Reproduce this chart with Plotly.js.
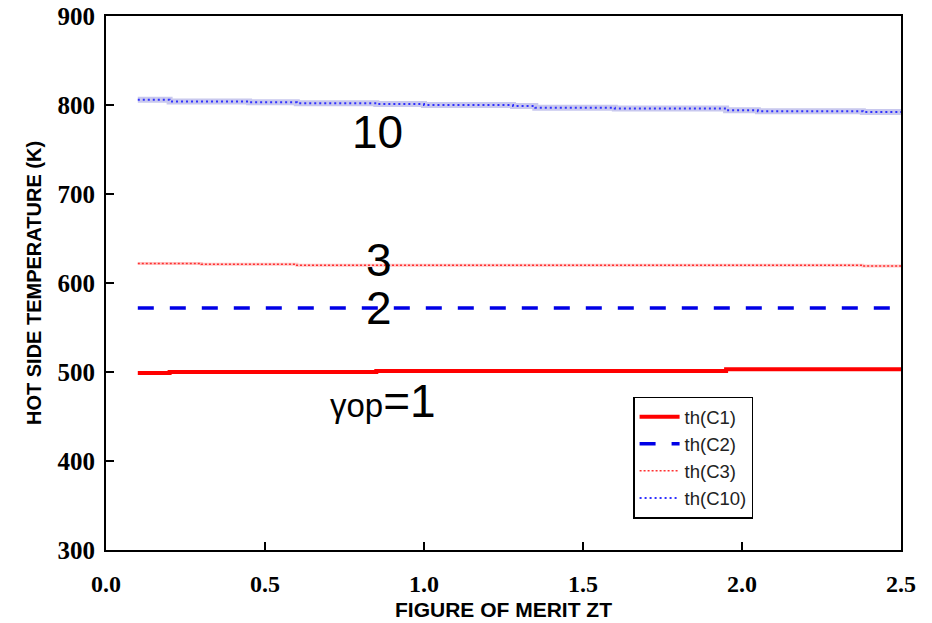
<!DOCTYPE html>
<html><head><meta charset="utf-8">
<script src="https://cdn.plot.ly/plotly-3.0.1.min.js"></script>
<style>body{margin:0;background:#fff}#chart{width:932px;height:623px}</style>
</head><body><div id="chart"></div>
<script>
// Data
const zt = [0.1, 0.2, 0.3, 0.45, 0.6, 0.85, 1.0, 1.28, 1.35, 1.6, 1.95, 2.05, 2.38, 2.5];
const thC1 = [499, 500, 500, 500, 500, 501, 501, 501, 501, 501, 503, 503, 503, 503];
const thC2 = [572, 572, 572, 572, 572, 572, 572, 572, 572, 572, 572, 572, 572, 572];
const thC3 = [622, 622, 621, 621, 620, 620, 620, 620, 620, 620, 620, 620, 619, 619];
const thC10 = [806, 804, 804, 803, 802, 801, 800, 799, 797, 796, 794, 793, 792, 792];
const seriesNames = ["th(C1)", "th(C2)", "th(C3)", "th(C10)"];
const labelTexts = ["10", "3", "2", "<span style='font-size:33px'>γop</span>=1"];
const labelX = [0.855, 0.86, 0.86, 0.87];
const labelY = [770, 625.5, 571.5, 467];

const traces = [
  {x: zt, y: thC1, name: seriesNames[0], mode: "lines", line: {shape: "hv", color: "#ff0000", width: 4}},
  {x: zt, y: thC2, name: seriesNames[1], mode: "lines", line: {shape: "hv", color: "#0000e6", width: 3.5, dash: "16px,16px"}},
  {x: zt, y: thC3, mode: "lines", showlegend: false, hoverinfo: "skip", line: {shape: "hv", color: "#ffc8c8", width: 3}},
  {x: zt, y: thC3, name: seriesNames[2], mode: "lines", line: {shape: "hv", color: "#ff3030", width: 1.5, dash: "2px,2px"}},
  {x: zt, y: thC10, mode: "lines", showlegend: false, hoverinfo: "skip", line: {shape: "hv", color: "#c8c8ee", width: 6}},
  {x: zt, y: thC10, name: seriesNames[3], mode: "lines", line: {shape: "hv", color: "#3030ff", width: 2, dash: "2px,3px"}}
];

const tickFontY = {family: "Liberation Serif", size: 25, color: "#000", weight: 700};
const tickFontX = {family: "Liberation Serif", size: 24, color: "#000", weight: 700};
const annotations = labelTexts.map((t, i) => ({
  x: labelX[i], y: labelY[i], xref: "x", yref: "y", text: t, showarrow: false,
  font: {family: "Liberation Sans", size: 46, color: "#000"}
}));

const layout = {
  width: 932, height: 623,
  margin: {l: 106, r: 31, t: 16, b: 73},
  paper_bgcolor: "#fff", plot_bgcolor: "#fff",
  showlegend: true,
  legend: {x: 0.663, y: 0.287, xanchor: "left", yanchor: "top", bordercolor: "#000", borderwidth: 1.5,
    bgcolor: "#fff", font: {family: "Liberation Sans", size: 18.5, color: "#222"}, tracegroupgap: 0, itemwidth: 40},
  xaxis: {range: [0, 2.5], tickvals: [0, 0.5, 1, 1.5, 2, 2.5], ticktext: ["0.0", "0.5", "1.0", "1.5", "2.0", "2.5"],
    ticks: "inside", ticklen: 8, tickwidth: 1.5, tickcolor: "#000", showline: true, linecolor: "#000", linewidth: 2,
    mirror: true, showgrid: false, zeroline: false, tickfont: tickFontX, ticklabelstandoff: 11,
    title: {text: "FIGURE OF MERIT ZT", font: {family: "Liberation Sans", size: 21, color: "#000", weight: 700}, standoff: 7}},
  yaxis: {range: [300, 900], tickvals: [300, 400, 500, 600, 700, 800, 900],
    ticks: "inside", ticklen: 8, tickwidth: 1.5, tickcolor: "#000", showline: true, linecolor: "#000", linewidth: 2,
    mirror: true, showgrid: false, zeroline: false, tickfont: tickFontY, ticklabelstandoff: 4,
    title: {text: "HOT SIDE TEMPERATURE (K)", font: {family: "Liberation Sans", size: 20, color: "#000", weight: 700}, standoff: 11}},
  annotations: annotations
};
Plotly.newPlot("chart", traces, layout, {displayModeBar: false, staticPlot: true});
</script></body></html>
